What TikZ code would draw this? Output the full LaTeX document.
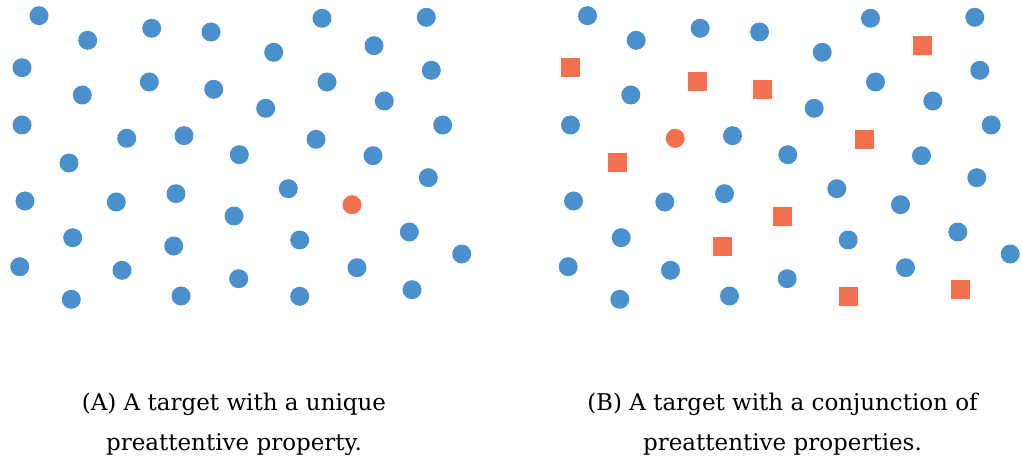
\documentclass[tikz,border=0pt]{standalone}
\usepackage{fontspec}
\setmainfont{DejaVu Serif}
\usepackage{xcolor}
\definecolor{dotblue}{HTML}{4A90CD}
\definecolor{targetred}{HTML}{F4704F}

\begin{document}
\begin{tikzpicture}[
  x=1pt, y=-1pt,
  item/.style={inner sep=0pt, minimum size=19pt},
  dot/.style={item, circle, fill=dotblue},
  target/.style={item, circle, fill=targetred},
  distract/.style={item, rectangle, fill=targetred},
  caption/.style={align=center, font=\fontsize{23}{40}\selectfont},
]
\useasboundingbox (0,0) rectangle (1022,465);

% ---- Panel A: unique preattentive property ----
\foreach \px/\py [count=\i] in {39/15.7, 87.7/40.3, 151.7/28.3, 211/32,
    322/18.3, 426.3/17.3, 273.7/52.3, 374/45.7, 22/67.7, 149.3/82,
    213.7/89.3, 327/82, 431.3/70.3, 82.3/95, 265.7/108.3, 384.3/101,
    22/125, 126.7/138.3, 184/135.7, 316/139.3, 442.7/125, 69/163,
    239.3/154.7, 373/155.7, 428.3/177.7, 25/201, 116.3/202, 176/193.7,
    288.3/188.7, 234/216, 72.7/237.7, 173.7/246, 299.7/240, 409.3/232,
    461.7/254, 19.7/266.7, 122/270.3, 238.7/278.7, 357/267.7,
    71.3/299.3, 181/296, 299.7/296.3, 412/289.7}
  \node[dot] (dotA-\i) at (\px,\py) {};
\node[target] (targetA) at (352,204.7) {};

% ---- Panel B: conjunction of properties ----
\begin{scope}[xshift=548.5pt]
\foreach \px/\py [count=\i] in {39/15.7, 87.7/40.3, 151.7/28.3, 211/32,
    322/18.3, 426.3/17.3, 273.7/52.3, 327/82, 431.3/70.3, 82.3/95,
    265.7/108.3, 384.3/101, 22/125, 184/135.7, 442.7/125, 239.3/154.7,
    373/155.7, 428.3/177.7, 25/201, 116.3/202, 176/193.7, 288.3/188.7,
    352/204.7, 72.7/237.7, 299.7/240, 409.3/232, 461.7/254, 19.7/266.7,
    122/270.3, 238.7/278.7, 357/267.7, 71.3/299.3, 181/296}
  \node[dot] (dotB-\i) at (\px,\py) {};
\foreach \px/\py [count=\i] in {374/45.7, 22/67.7, 149.3/82, 213.7/89.3,
    316/139.3, 69/163, 234/216, 173.7/246, 299.7/296.3, 412/289.7}
  \node[distract] (sqB-\i) at (\px,\py) {};
\node[target] (targetB) at (126.7,138.3) {};
\end{scope}

% Captions
\node[caption] (capA) at (234,424)
  {(A) A target with a unique\\preattentive property.};
\node[caption] (capB) at (782.5,424)
  {(B) A target with a conjunction of\\preattentive properties.};

\end{tikzpicture}
\end{document}
